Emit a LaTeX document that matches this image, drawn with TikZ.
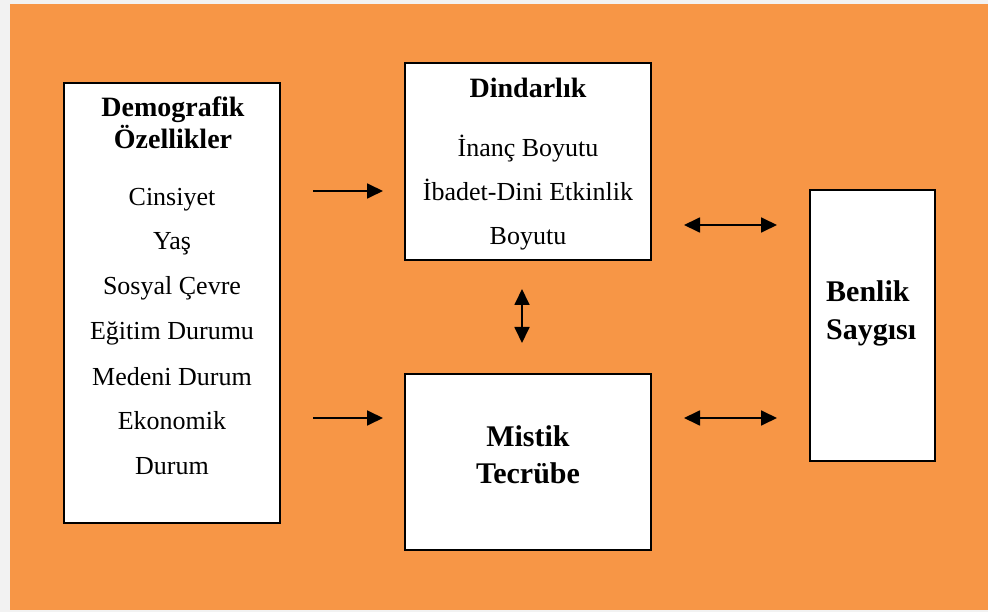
\documentclass[tikz,border=0pt]{standalone}
\usepackage{fontspec}
\setmainfont{Liberation Serif}
\usetikzlibrary{arrows.meta}
\definecolor{bgorange}{HTML}{F79646}
\definecolor{bggrey}{HTML}{F2F2F2}
\begin{document}
\begin{tikzpicture}[x=1pt,y=-1pt,
 box/.style={draw=black,line width=1.6pt,fill=white,inner sep=0},
 body/.style={font=\fontsize{26}{31}\selectfont,anchor=base,inner sep=0},
 title/.style={font=\fontsize{28}{33}\selectfont\bfseries,anchor=base,inner sep=0},
 bigtitle/.style={font=\fontsize{30}{36}\selectfont\bfseries,anchor=base,inner sep=0},
 tip/.tip={Triangle[length=16pt,width=15pt]},
 arr/.style={line width=1.8pt,-tip},
 darr/.style={line width=1.8pt,tip-tip}]
\fill[bggrey] (0,0) rectangle (988,612);
\fill[bgorange] (10,4) rectangle (988,610);
\useasboundingbox (0,0) rectangle (988,612);

% boxes
\node[box,minimum width=216pt,minimum height=440pt] (demo) at (172,303) {};
\node[box,minimum width=246pt,minimum height=197pt] (dind) at (528,161.5) {};
\node[box,minimum width=246pt,minimum height=176pt] (mist) at (528,462) {};
\node[box,minimum width=125pt,minimum height=271pt] (benl) at (872.5,325.5) {};

% Demografik texts
\node[title] (d1) at (173,117) {Demografik};
\node[title] (d2) at (173,149) {Özellikler};
\node[body] (d3) at (172,206) {Cinsiyet};
\node[body] (d4) at (172,250) {Yaş};
\node[body] (d5) at (172,295) {Sosyal Çevre};
\node[body] (d6) at (172,340) {Eğitim Durumu};
\node[body] (d7) at (172,385) {Medeni Durum};
\node[body] (d8) at (172,429) {Ekonomik};
\node[body] (d9) at (172,474) {Durum};

% Dindarlik texts
\node[title] (r1) at (528,98) {Dindarlık};
\node[body] (r2) at (528,157) {İnanç Boyutu};
\node[body] (r3) at (528,201) {İbadet-Dini Etkinlik};
\node[body] (r4) at (528,245) {Boyutu};

% Mistik texts
\node[bigtitle] (m1) at (528,446) {Mistik};
\node[bigtitle] (m2) at (528,483) {Tecrübe};

% Benlik texts
\node[bigtitle,anchor=base west] (b1) at (826,302) {Benlik};
\node[bigtitle,anchor=base west] (b2) at (826,339) {Saygısı};

% arrow coordinates
\coordinate (a1s) at (313,191);
\coordinate (a1e) at (383,191);
\coordinate (a2s) at (313,418);
\coordinate (a2e) at (383,418);
\coordinate (a3s) at (684,225);
\coordinate (a3e) at (777,225);
\coordinate (a4s) at (684,418);
\coordinate (a4e) at (777,418);
\coordinate (a5s) at (522,289);
\coordinate (a5e) at (522,343);

\draw[arr] (a1s) -- (a1e);
\draw[arr] (a2s) -- (a2e);
\draw[darr] (a3s) -- (a3e);
\draw[darr] (a4s) -- (a4e);
\draw[darr] (a5s) -- (a5e);
\end{tikzpicture}
\end{document}
